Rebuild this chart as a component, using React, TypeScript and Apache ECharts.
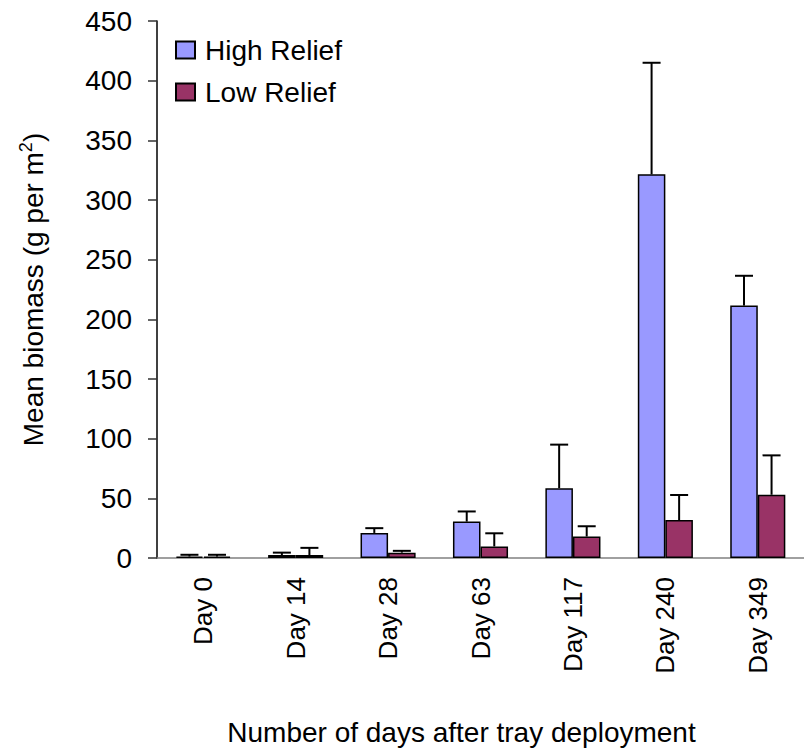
import React, { useEffect, useRef } from "react";
import * as echarts from "echarts";

const categories = ["Day 0", "Day 14", "Day 28", "Day 63", "Day 117", "Day 240", "Day 349"];
const highRelief = [1.2, 2.5, 21, 30.5, 58.5, 321.5, 211.5];
const highReliefErr = [1.5, 2, 4, 8.5, 36.5, 93.5, 25];
const lowRelief = [1.2, 2.5, 4.5, 9.7, 18, 31.8, 53];
const lowReliefErr = [1.5, 6, 1.5, 11, 8.6, 21, 33];
const yTicks = { min: 0, max: 450, interval: 50 };

const FONT = "'Liberation Sans', Arial, sans-serif";
const HIGH_COLOR = "#9999ff";
const LOW_COLOR = "#993366";

function errorSeries(name: string, values: number[], errs: number[], side: number) {
  return {
    type: "custom",
    name: name + " error",
    silent: true,
    z: 3,
    data: values.map((v, i) => [i, v, v + errs[i]]),
    encode: { x: 0, y: [1, 2] },
    renderItem: (params: any, api: any) => {
      const idx = api.value(0);
      const base = api.coord([idx, api.value(1)]);
      const top = api.coord([idx, api.value(2)]);
      const band = api.size([1, 0])[0];
      const x = base[0] + side * band * 0.149;
      const cap = 9;
      const style = { stroke: "#000", lineWidth: 2 };
      return {
        type: "group",
        children: [
          { type: "line", shape: { x1: x, y1: base[1], x2: x, y2: top[1] }, style },
          { type: "line", shape: { x1: x - cap, y1: top[1], x2: x + cap, y2: top[1] }, style },
        ],
      };
    },
  };
}

export default function App() {
  const ref = useRef<HTMLDivElement>(null);
  useEffect(() => {
    if (!ref.current) return;
    const chart = echarts.init(ref.current, null, { renderer: "svg" });
    chart.setOption({
      animation: false,
      backgroundColor: "#ffffff",
      textStyle: { fontFamily: FONT },
      grid: { left: 157, top: 21, width: 658, height: 541, containLabel: false },
      legend: {
        orient: "vertical",
        left: 170,
        top: 31,
        itemWidth: 19,
        itemHeight: 17,
        itemGap: 14,
        icon: "rect",
        data: ["High Relief", "Low Relief"],
        textStyle: { fontFamily: FONT, fontSize: 28, color: "#000", padding: [0, 0, 0, 5] },
      },
      xAxis: {
        type: "category",
        data: categories,
        name: "Number of days after tray deployment",
        nameLocation: "middle",
        nameGap: 160,
        nameTextStyle: { fontFamily: FONT, fontSize: 28, color: "#000", padding: [0, 38, 0, 0] },
        axisLine: { lineStyle: { color: "#808080", width: 1.5 } },
        axisTick: { show: false },
        axisLabel: { rotate: 90, margin: 19, fontFamily: FONT, fontSize: 26, color: "#000" },
        splitLine: { show: false },
      },
      yAxis: {
        type: "value",
        min: yTicks.min,
        max: yTicks.max,
        interval: yTicks.interval,
        name: "{a|Mean biomass (g per m}{sup|2}{a|)}",
        nameLocation: "middle",
        nameGap: 110,
        nameRotate: 90,
        nameTextStyle: {
          fontFamily: FONT,
          color: "#000",
          rich: {
            a: { fontFamily: FONT, fontSize: 28, lineHeight: 30, color: "#000", verticalAlign: "bottom" },
            sup: { fontFamily: FONT, fontSize: 18, lineHeight: 18, color: "#000", verticalAlign: "top" },
          },
        },
        axisLine: { show: true, lineStyle: { color: "#000", width: 1.5 } },
        axisTick: { show: true, inside: false, length: 9, lineStyle: { color: "#333", width: 1.5 } },
        axisLabel: { margin: 25, fontFamily: FONT, fontSize: 28, color: "#000" },
        splitLine: { show: false },
      },
      series: [
        {
          name: "High Relief",
          type: "bar",
          data: highRelief,
          barWidth: "29.8%",
          barGap: "0%",
          itemStyle: { color: HIGH_COLOR, borderColor: "#000", borderWidth: 1.5 },
        },
        {
          name: "Low Relief",
          type: "bar",
          data: lowRelief,
          barWidth: "29.8%",
          barGap: "0%",
          itemStyle: { color: LOW_COLOR, borderColor: "#000", borderWidth: 1.5 },
        },
        errorSeries("High Relief", highRelief, highReliefErr, -1),
        errorSeries("Low Relief", lowRelief, lowReliefErr, 1),
      ],
    });
    return () => chart.dispose();
  }, []);
  return (
    <div
      ref={ref}
      style={{ position: "fixed", left: 0, top: 0, width: 804, height: 751, background: "#fff" }}
    />
  );
}
